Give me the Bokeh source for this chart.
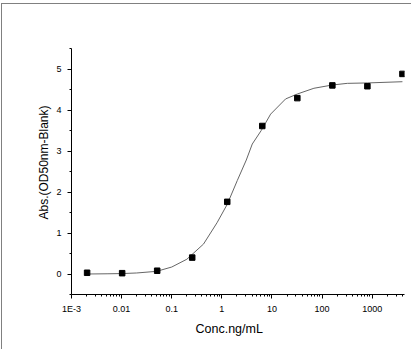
from bokeh.plotting import figure
from bokeh.models import Range1d, FixedTicker, Title
from bokeh.embed import file_html
from bokeh.resources import INLINE

# measured points (5-fold dilution)
conc = [0.002048, 0.01024, 0.0512, 0.256, 1.28, 6.4, 32, 160, 800, 4000]
absorb = [0.03, 0.02, 0.08, 0.40, 1.76, 3.61, 4.29, 4.60, 4.58, 4.88]

# fitted curve
fit_x = [0.002048, 0.00512, 0.01, 0.02, 0.05, 0.1, 0.2, 0.43, 0.8, 1.28, 2.03,
         3.07, 4.04, 6.1, 9.4, 18.7, 32, 68.6, 160, 318, 800, 4000]
fit_y = [0.00, 0.005, 0.01, 0.025, 0.065, 0.17, 0.36, 0.73, 1.25, 1.70, 2.28,
         2.78, 3.17, 3.50, 3.90, 4.27, 4.39, 4.53, 4.61, 4.65, 4.66, 4.69]

x_major = [1e-3, 1e-2, 1e-1, 1, 10, 100, 1000]
x_labels = ["1E-3", "0.01", "0.1", "1", "10", "100", "1000"]
x_minor = [m * d for d in [1e-3, 1e-2, 1e-1, 1, 10, 100, 1000] for m in range(2, 10)]
y_major = [0, 1, 2, 3, 4, 5]
y_minor = [-0.5, 0.5, 1.5, 2.5, 3.5, 4.5, 5.5]

x_title = "Conc.ng/mL"
y_title = "Abs.(OD50nm-Blank)"

p = figure(width=410, height=346, x_axis_type="log",
           x_range=Range1d(1e-3, 4400), y_range=Range1d(-0.5, 5.5),
           output_backend="svg", toolbar_location=None,
           min_border_left=69, min_border_right=8,
           min_border_top=44, min_border_bottom=56)
p.margin = (3, 0, 0, 1)
p.styles = {"border-top": "1px solid #808080", "border-left": "1px solid #808080"}

p.xgrid.visible = False
p.ygrid.visible = False
p.outline_line_color = None
p.background_fill_color = "white"
p.border_fill_color = "white"

font = "Liberation Sans"
for ax in (p.xaxis[0], p.yaxis[0]):
    ax.axis_line_color = "black"
    ax.major_tick_line_color = "black"
    ax.minor_tick_line_color = "black"
    ax.major_tick_out = 4
    ax.major_tick_in = 0
    ax.minor_tick_out = 2
    ax.minor_tick_in = 0
    ax.major_label_text_font = font
    ax.major_label_text_font_size = "9px"
    ax.major_label_text_color = "black"

p.xaxis.ticker = FixedTicker(ticks=x_major, minor_ticks=x_minor)
p.xaxis.major_label_overrides = {v: s for v, s in zip(x_major, x_labels)}
p.xaxis.major_label_standoff = 5

p.yaxis.ticker = FixedTicker(ticks=y_major, minor_ticks=y_minor)
p.yaxis.major_label_standoff = 6

p.line(fit_x, fit_y, line_color="#666666", line_width=1)
p.scatter(conc, absorb, marker="square", size=5.5, fill_color="black", line_color="black")

p.add_layout(Title(text=x_title, text_font=font, text_font_size="12.5px",
                   text_font_style="normal", text_color="black",
                   align="left", offset=124, standoff=7), "below")
p.add_layout(Title(text=y_title, text_font=font, text_font_size="12px",
                   text_font_style="normal", text_color="black",
                   align="left", offset=75, standoff=5), "left")

open("out.html", "w").write(file_html(p, INLINE))
